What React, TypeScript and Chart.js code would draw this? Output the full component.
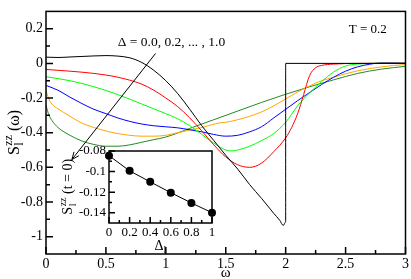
import { useEffect, useRef } from "react";
import { Chart, registerables } from "chart.js";

Chart.register(...registerables);

const FONT = '"Liberation Serif", "Times New Roman", serif';

// ---- main chart data: S_l^zz(omega) for Delta = 0.0 ... 1.0 ----
const omegaD00 = [0, 0.1, 0.2, 0.3, 0.4, 0.5, 0.6, 0.7, 0.8, 0.9, 1.0, 1.1, 1.2, 1.3, 1.4, 1.5, 1.6, 1.7, 1.8, 1.9, 1.95, 1.98, 2.0, 2.0, 2.5, 3.0];
const valD00 = [0.036, 0.034, 0.037, 0.04, 0.043, 0.045, 0.042, 0.032, 0.005, -0.04, -0.1, -0.175, -0.265, -0.36, -0.445, -0.53, -0.61, -0.7, -0.78, -0.865, -0.905, -0.935, -0.915, 0, 0, 0];

const omegaD02 = [0, 0.2, 0.4, 0.6, 0.8, 0.9, 1.0, 1.1, 1.2, 1.3, 1.4, 1.5, 1.6, 1.7, 1.8, 1.9, 2.0, 2.05, 2.1, 2.15, 2.2, 2.25, 2.3, 2.4, 2.6, 3.0];
const valD02 = [-0.035, -0.045, -0.058, -0.08, -0.12, -0.155, -0.2, -0.25, -0.315, -0.39, -0.47, -0.54, -0.585, -0.6, -0.575, -0.51, -0.43, -0.37, -0.29, -0.18, -0.07, -0.025, -0.012, -0.004, 0, 0.001];

const omegaD04 = [0, 0.2, 0.4, 0.6, 0.8, 1.0, 1.1, 1.2, 1.3, 1.4, 1.5, 1.55, 1.6, 1.7, 1.8, 1.9, 2.0, 2.1, 2.2, 2.3, 2.4, 2.5, 2.6, 2.8, 3.0];
const valD04 = [-0.077, -0.1, -0.135, -0.18, -0.235, -0.29, -0.32, -0.36, -0.41, -0.46, -0.5, -0.505, -0.5, -0.478, -0.445, -0.405, -0.34, -0.245, -0.17, -0.105, -0.05, -0.015, -0.004, 0.001, 0.001];

const omegaD06 = [0, 0.1, 0.2, 0.3, 0.4, 0.5, 0.6, 0.7, 0.8, 0.9, 1.0, 1.1, 1.2, 1.3, 1.4, 1.5, 1.6, 1.7, 1.8, 1.9, 2.0, 2.1, 2.2, 2.3, 2.4, 2.5, 2.6, 2.7, 2.8, 2.9, 3.0];
const valD06 = [-0.127, -0.155, -0.195, -0.232, -0.265, -0.29, -0.315, -0.335, -0.35, -0.36, -0.366, -0.372, -0.383, -0.395, -0.41, -0.42, -0.415, -0.395, -0.365, -0.315, -0.265, -0.215, -0.168, -0.122, -0.08, -0.045, -0.02, -0.005, 0.003, 0.003, 0.001];

const omegaD08 = [0, 0.02, 0.05, 0.1, 0.2, 0.3, 0.4, 0.5, 0.6, 0.7, 0.8, 0.9, 1.0, 1.1, 1.2, 1.3, 1.38, 1.45, 1.5, 1.6, 1.7, 1.8, 1.9, 2.0, 2.1, 2.2, 2.3, 2.4, 2.5, 2.6, 2.7, 2.8, 2.9, 3.0];
const valD08 = [-0.155, -0.2, -0.235, -0.262, -0.305, -0.345, -0.37, -0.39, -0.405, -0.415, -0.42, -0.42, -0.415, -0.4, -0.385, -0.37, -0.355, -0.343, -0.34, -0.325, -0.305, -0.28, -0.245, -0.205, -0.165, -0.13, -0.1, -0.08, -0.06, -0.043, -0.03, -0.02, -0.012, -0.007];

const omegaD10 = [0, 0.02, 0.05, 0.1, 0.2, 0.3, 0.4, 0.5, 0.6, 0.7, 0.8, 0.9, 1.0, 1.2, 1.4, 1.6, 1.8, 2.0, 2.2, 2.4, 2.6, 2.8, 3.0];
const valD10 = [-0.24, -0.29, -0.33, -0.37, -0.415, -0.448, -0.468, -0.478, -0.478, -0.47, -0.455, -0.44, -0.425, -0.375, -0.325, -0.275, -0.225, -0.178, -0.135, -0.095, -0.058, -0.033, -0.017];

const seriesColors = ["#000000", "#ff0000", "#00ff00", "#0000ff", "#ffa500", "#228b22"];

const xTicksMain = [0, 0.5, 1, 1.5, 2, 2.5, 3];
const xMinorMain = [0.25, 0.75, 1.25, 1.75, 2.25, 2.75];
const yTicksMain = [-1, -0.8, -0.6, -0.4, -0.2, 0, 0.2];
const yMinorMain = [-0.9, -0.7, -0.5, -0.3, -0.1, 0.1];

// ---- inset data: S_l^zz(t=0) vs Delta_l ----
const deltaValues = [0, 0.2, 0.4, 0.6, 0.8, 1.0];
const szzT0 = [-0.0845, -0.0993, -0.11, -0.1205, -0.1305, -0.14];
const xTicksInset = [0, 0.2, 0.4, 0.6, 0.8, 1];
const xMinorInset = [0.1, 0.3, 0.5, 0.7, 0.9];
const yTicksInset = [-0.14, -0.12, -0.1, -0.08];
const yMinorInset = [-0.13, -0.11, -0.09];

// annotation anchors (data coordinates of the main chart)
const deltaLabelPos = { x: 1.047, y: 0.123 };
const tempLabelPos = { x: 2.685, y: 0.195 };
const arrowFrom = { x: 0.914, y: 0.057 };
const arrowTo = { x: 0.216, y: -0.555 };

function pairs(xs: number[], ys: number[]) {
  return xs.map((x, i) => ({ x, y: ys[i] }));
}

function drawSzz(ctx: CanvasRenderingContext2D, cx: number, cy: number, size: number, tail: string) {
  ctx.save();
  ctx.translate(cx, cy);
  ctx.rotate(-Math.PI / 2);
  const big = `${size}px ${FONT}`;
  const small = `${Math.round(size * 0.72)}px ${FONT}`;
  ctx.font = big;
  const wS = ctx.measureText("S").width;
  const wT = ctx.measureText(tail).width;
  ctx.font = small;
  const wMid = Math.max(ctx.measureText("zz").width, ctx.measureText("l").width);
  const total = wS + wMid + wT;
  let x = -total / 2;
  const base = size * 0.35;
  ctx.fillStyle = "#000";
  ctx.textBaseline = "alphabetic";
  ctx.textAlign = "left";
  ctx.font = big;
  ctx.fillText("S", x, base);
  x += wS + 0.5;
  ctx.font = small;
  ctx.fillText("zz", x, base - size * 0.42);
  ctx.fillText("l", x, base + size * 0.3);
  x += wMid;
  ctx.font = big;
  ctx.fillText(tail, x, base);
  ctx.restore();
}

function framePlugin(id: string, xMaj: number[], xMin: number[], yMaj: number[], yMin: number[], majLen: number, minLen: number, lw: number, extra?: (chart: any) => void) {
  return {
    id,
    afterDraw(chart: any) {
      const { ctx, chartArea: a } = chart;
      const xs = chart.scales.x;
      const ys = chart.scales.y;
      ctx.save();
      ctx.strokeStyle = "#000";
      ctx.lineWidth = lw;
      ctx.strokeRect(a.left, a.top, a.right - a.left, a.bottom - a.top);
      ctx.beginPath();
      const tx = (v: number, len: number) => {
        const p = xs.getPixelForValue(v);
        ctx.moveTo(p, a.bottom);
        ctx.lineTo(p, a.bottom - len);
      };
      const ty = (v: number, len: number) => {
        const p = ys.getPixelForValue(v);
        ctx.moveTo(a.left, p);
        ctx.lineTo(a.left + len, p);
      };
      xMaj.forEach((v) => tx(v, majLen));
      xMin.forEach((v) => tx(v, minLen));
      yMaj.forEach((v) => ty(v, majLen));
      yMin.forEach((v) => ty(v, minLen));
      ctx.stroke();
      ctx.restore();
      if (extra) extra(chart);
    },
  };
}

export default function App() {
  const mainRef = useRef<HTMLCanvasElement>(null);
  const insetRef = useRef<HTMLCanvasElement>(null);

  useEffect(() => {
    document.body.style.margin = "0";
    const omegas = [omegaD00, omegaD02, omegaD04, omegaD06, omegaD08, omegaD10];
    const vals = [valD00, valD02, valD04, valD06, valD08, valD10];
    const names = ["Δ=0.0", "Δ=0.2", "Δ=0.4", "Δ=0.6", "Δ=0.8", "Δ=1.0"];

    const mainDecor = (chart: any) => {
      const { ctx, chartArea: a } = chart;
      const xs = chart.scales.x;
      const ys = chart.scales.y;
      ctx.save();
      ctx.fillStyle = "#000";
      ctx.textAlign = "center";
      ctx.textBaseline = "middle";
      ctx.font = `13.5px ${FONT}`;
      ctx.fillText("Δ = 0.0, 0.2, ... , 1.0", xs.getPixelForValue(deltaLabelPos.x), ys.getPixelForValue(deltaLabelPos.y));
      ctx.font = `13px ${FONT}`;
      ctx.fillText("T = 0.2", xs.getPixelForValue(tempLabelPos.x), ys.getPixelForValue(tempLabelPos.y));
      ctx.font = `15px ${FONT}`;
      ctx.fillText("ω", (a.left + a.right) / 2, 273);
      // arrow
      const x0 = xs.getPixelForValue(arrowFrom.x);
      const y0 = ys.getPixelForValue(arrowFrom.y);
      const x1 = xs.getPixelForValue(arrowTo.x);
      const y1 = ys.getPixelForValue(arrowTo.y);
      ctx.strokeStyle = "#000";
      ctx.lineWidth = 1;
      ctx.beginPath();
      ctx.moveTo(x0, y0);
      ctx.lineTo(x1, y1);
      const ang = Math.atan2(y1 - y0, x1 - x0);
      const hl = 8;
      ctx.moveTo(x1, y1);
      ctx.lineTo(x1 - hl * Math.cos(ang - 0.4), y1 - hl * Math.sin(ang - 0.4));
      ctx.moveTo(x1, y1);
      ctx.lineTo(x1 - hl * Math.cos(ang + 0.4), y1 - hl * Math.sin(ang + 0.4));
      ctx.stroke();
      ctx.restore();
      drawSzz(ctx, 13, (a.top + a.bottom) / 2, 16, " (ω)");
    };

    const main = new Chart(mainRef.current!, {
      type: "line",
      data: {
        datasets: omegas.map((om, i) => ({
          label: names[i],
          data: pairs(om, vals[i]),
          borderColor: seriesColors[i],
          backgroundColor: seriesColors[i],
          borderWidth: 1,
          pointRadius: 0,
          fill: false,
          cubicInterpolationMode: "monotone" as const,
        })),
      },
      options: {
        animation: false,
        responsive: false,
        events: [],
        layout: { padding: { top: 2, right: 4, left: 0, bottom: 0 } },
        plugins: { legend: { display: false }, tooltip: { enabled: false } },
        scales: {
          x: {
            type: "linear",
            min: 0,
            max: 3,
            grid: { display: false, drawTicks: false },
            border: { display: false },
            afterBuildTicks: (s: any) => {
              s.ticks = xTicksMain.map((v) => ({ value: v }));
            },
            afterFit: (s: any) => {
              s.height = 25;
            },
            ticks: {
              padding: 2,
              maxRotation: 0,
              autoSkip: false,
              color: "#000",
              font: { family: FONT, size: 14 },
              callback: (v: any) => String(Number(v)),
            },
          },
          y: {
            type: "linear",
            min: -1.1,
            max: 0.3,
            grid: { display: false, drawTicks: false },
            border: { display: false },
            afterBuildTicks: (s: any) => {
              s.ticks = yTicksMain.map((v) => ({ value: v }));
            },
            afterFit: (s: any) => {
              s.width = 46;
            },
            ticks: {
              padding: 3,
              autoSkip: false,
              color: "#000",
              font: { family: FONT, size: 14 },
              callback: (v: any) => String(Number(Number(v).toFixed(2))),
            },
          },
        },
      },
      plugins: [framePlugin("mainFrame", xTicksMain, xMinorMain, yTicksMain, yMinorMain, 7, 4, 1.5, mainDecor)],
    });

    const insetDecor = (chart: any) => {
      const { ctx, chartArea: a } = chart;
      ctx.save();
      ctx.fillStyle = "#000";
      ctx.textBaseline = "middle";
      ctx.textAlign = "left";
      ctx.font = `14px ${FONT}`;
      const cx = (a.left + a.right) / 2;
      const wD = ctx.measureText("Δ").width;
      ctx.font = `10px ${FONT}`;
      const wl = ctx.measureText("l").width;
      const x0 = cx - (wD + wl) / 2;
      ctx.font = `14px ${FONT}`;
      ctx.fillText("Δ", x0, 246);
      ctx.font = `10px ${FONT}`;
      ctx.fillText("l", x0 + wD, 250);
      ctx.restore();
      drawSzz(ctx, 67, (a.top + a.bottom) / 2, 14, " (t = 0)");
    };

    const inset = new Chart(insetRef.current!, {
      type: "line",
      data: {
        datasets: [
          {
            label: "S(t=0)",
            data: pairs(deltaValues, szzT0),
            borderColor: "#000",
            backgroundColor: "#000",
            borderWidth: 1,
            pointRadius: 4,
            pointBorderWidth: 0,
            pointBackgroundColor: "#000",
            tension: 0,
            clip: false as any,
          },
        ],
      },
      options: {
        animation: false,
        responsive: false,
        events: [],
        layout: { padding: { top: 151, right: 199, left: 0, bottom: 0 } },
        plugins: { legend: { display: false }, tooltip: { enabled: false } },
        scales: {
          x: {
            type: "linear",
            min: 0,
            max: 1,
            grid: { display: false, drawTicks: false },
            border: { display: false },
            afterBuildTicks: (s: any) => {
              s.ticks = xTicksInset.map((v) => ({ value: v }));
            },
            afterFit: (s: any) => {
              s.height = 56;
            },
            ticks: {
              padding: 2,
              maxRotation: 0,
              autoSkip: false,
              color: "#000",
              font: { family: FONT, size: 13 },
              callback: (v: any) => String(Number(Number(v).toFixed(2))),
            },
          },
          y: {
            type: "linear",
            min: -0.15,
            max: -0.08,
            grid: { display: false, drawTicks: false },
            border: { display: false },
            afterBuildTicks: (s: any) => {
              s.ticks = yTicksInset.map((v) => ({ value: v }));
            },
            afterFit: (s: any) => {
              s.width = 109;
            },
            ticks: {
              padding: 3,
              autoSkip: false,
              color: "#000",
              font: { family: FONT, size: 13 },
              callback: (v: any) => String(Number(Number(v).toFixed(3))),
            },
          },
        },
      },
      plugins: [framePlugin("insetFrame", xTicksInset, xMinorInset, yTicksInset, yMinorInset, 6, 3, 1.5, insetDecor)],
    });

    return () => {
      main.destroy();
      inset.destroy();
    };
  }, []);

  return (
    <div style={{ position: "fixed", left: 0, top: 0, width: 411, height: 279, background: "#fff" }}>
      <canvas ref={mainRef} width={411} height={279} style={{ position: "absolute", left: 0, top: 0, width: 411, height: 279 }} />
      <canvas ref={insetRef} width={411} height={279} style={{ position: "absolute", left: 0, top: 0, width: 411, height: 279 }} />
    </div>
  );
}
